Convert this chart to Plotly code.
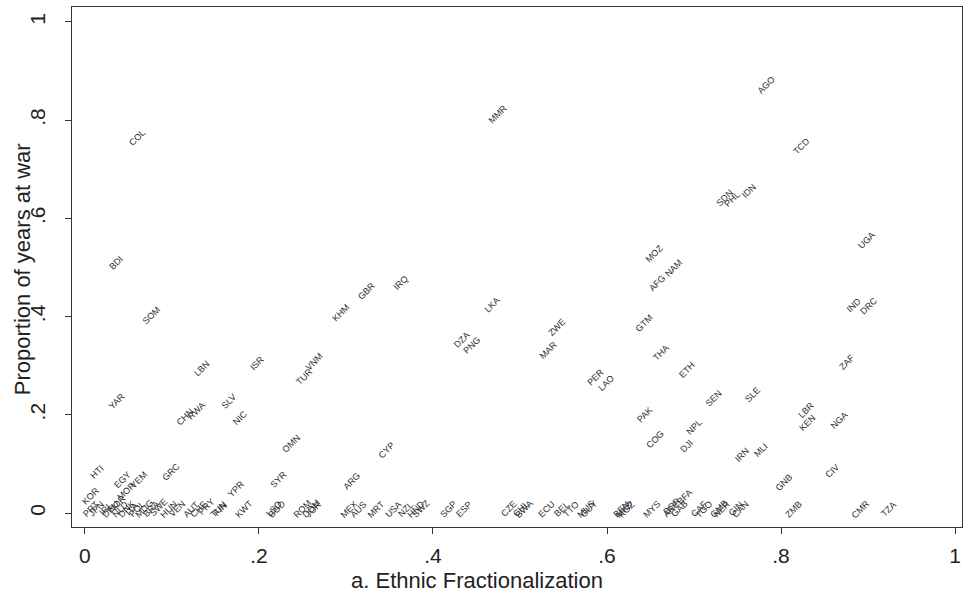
import plotly.graph_objects as go

countries = [
    "AGO", "MMR", "COL", "TCD", "SDN", "PHL", "IDN", "UGA", "MOZ", "AFG", "NAM",
    "BDI", "SOM", "KHM", "GBR", "IRQ", "LKA", "ZWE", "GTM", "IND", "DRC", "DZA",
    "PNG", "MAR", "THA", "ETH", "PER", "LAO", "ZAF", "SEN", "SLE", "LBN", "ISR",
    "VNM", "TUR", "YAR", "SLV", "CHN", "RWA", "NIC", "PAK", "NPL", "COG", "DJI",
    "IRN", "MLI", "LBR", "KEN", "NGA", "CIV", "GNB", "OMN", "CYP", "SYR", "ARG",
    "HTI", "EGY", "YEM", "MOR", "GRC", "KOR", "YPR",
    "PRT", "JPN", "IRL", "DEU", "NOR", "NLD", "DNK", "ITA", "POL", "MDG", "BRA",
    "SWE", "HUN", "VEN", "AUT", "CHE", "PRY", "TUN", "FIN", "KWT", "LSO", "BGD",
    "ROM", "DOM", "JOR", "MEX", "AUS", "MRT", "USA", "NZL", "HND", "SWZ", "SGP",
    "ESP", "CZE", "CHL", "BWA", "ECU", "BEL", "TTO", "MUS", "GUY", "BEN", "MKD",
    "KGZ", "MYS", "BGR", "BFA", "ARE", "GAB", "CAF", "TGO", "GMB", "NER", "GIN",
    "CAN", "ZMB", "CMR", "TZA",
]

ethnic_frac = [
    0.776, 0.468, 0.054, 0.817, 0.728, 0.737, 0.756, 0.892, 0.647, 0.651, 0.670,
    0.029, 0.070, 0.287, 0.317, 0.356, 0.461, 0.536, 0.636, 0.877, 0.894, 0.426,
    0.438, 0.526, 0.655, 0.685, 0.580, 0.592, 0.869, 0.716, 0.760, 0.128, 0.191,
    0.256, 0.245, 0.030, 0.159, 0.108, 0.121, 0.171, 0.636, 0.693, 0.649, 0.685,
    0.748, 0.770, 0.822, 0.823, 0.860, 0.852, 0.797, 0.230, 0.340, 0.216, 0.300,
    0.007, 0.036, 0.055, 0.041, 0.092, 0.000, 0.167,
    0.000, 0.006, 0.017, 0.023, 0.030, 0.034, 0.041, 0.047, 0.053, 0.061, 0.069,
    0.078, 0.090, 0.099, 0.116, 0.124, 0.132, 0.147, 0.149, 0.176, 0.210, 0.214,
    0.243, 0.253, 0.256, 0.297, 0.308, 0.328, 0.348, 0.362, 0.374, 0.379, 0.411,
    0.429, 0.480, 0.494, 0.498, 0.524, 0.541, 0.552, 0.569, 0.572, 0.610, 0.613,
    0.616, 0.645, 0.668, 0.682, 0.667, 0.676, 0.699, 0.705, 0.722, 0.725, 0.741,
    0.747, 0.808, 0.885, 0.917,
]

years_at_war = [
    0.864, 0.804, 0.757, 0.739, 0.634, 0.632, 0.648, 0.547, 0.520, 0.460, 0.490,
    0.500, 0.395, 0.399, 0.443, 0.460, 0.415, 0.370, 0.379, 0.415, 0.413, 0.344,
    0.334, 0.324, 0.318, 0.283, 0.269, 0.257, 0.300, 0.227, 0.233, 0.287, 0.298,
    0.300, 0.269, 0.219, 0.219, 0.188, 0.200, 0.186, 0.192, 0.168, 0.142, 0.128,
    0.111, 0.121, 0.202, 0.176, 0.182, 0.077, 0.055, 0.132, 0.121, 0.061, 0.057,
    0.075, 0.059, 0.059, 0.036, 0.075, 0.026, 0.040,
    0.000, 0.000, 0.000, 0.000, 0.010, 0.000, 0.000, 0.000, 0.000, 0.000, 0.000,
    0.005, 0.000, 0.000, 0.000, 0.000, 0.005, 0.000, 0.000, 0.000, 0.000, 0.000,
    0.000, 0.000, 0.000, 0.000, 0.000, 0.000, 0.000, 0.000, 0.000, 0.000, 0.000,
    0.000, 0.000, 0.000, 0.000, 0.000, 0.000, 0.000, 0.000, 0.000, 0.000, 0.000,
    0.000, 0.000, 0.006, 0.025, 0.000, 0.000, 0.000, 0.000, 0.000, 0.000, 0.000,
    0.000, 0.000, 0.000, 0.000,
]

x_ticks = [0, 0.2, 0.4, 0.6, 0.8, 1]
x_tick_labels = ["0", ".2", ".4", ".6", ".8", "1"]
y_ticks = [0, 0.2, 0.4, 0.6, 0.8, 1]
y_tick_labels = ["0", ".2", ".4", ".6", ".8", "1"]

FONT = "Liberation Sans"

fig = go.Figure()
fig.add_trace(go.Scatter(x=ethnic_frac, y=years_at_war, mode="markers",
                         marker=dict(size=1, color="rgba(0,0,0,0)"),
                         hoverinfo="text", text=countries, showlegend=False))

for c, xv, yv in zip(countries, ethnic_frac, years_at_war):
    fig.add_annotation(x=xv, y=yv, text=c, showarrow=False, textangle=-45,
                       xanchor="center", yanchor="middle", xshift=6, yshift=4,
                       font=dict(family=FONT, size=9, color="#2a2a2a"))

# axis titles
fig.add_annotation(xref="paper", yref="paper", x=0.455, y=-0.102,
                   text="a. Ethnic Fractionalization", showarrow=False,
                   xanchor="center", yanchor="middle",
                   font=dict(family=FONT, size=22, color="#222"))
fig.add_annotation(xref="paper", yref="paper", x=-0.056, y=0.496,
                   text="Proportion of years at war", showarrow=False,
                   textangle=-90, xanchor="center", yanchor="middle",
                   font=dict(family=FONT, size=22, color="#222"))

axis_common = dict(showgrid=False, zeroline=False, showline=True, linecolor="#333",
                   linewidth=1.2, mirror=True, ticks="outside", ticklen=6,
                   tickwidth=1.2, tickcolor="#333", automargin=False,
                   tickfont=dict(family=FONT, size=21, color="#222"))

fig.update_layout(
    width=964, height=601,
    paper_bgcolor="white", plot_bgcolor="white",
    margin=dict(l=72, r=2, t=7, b=74, autoexpand=False),
    xaxis=dict(range=[-0.0149, 1.008], tickvals=x_ticks, ticktext=x_tick_labels,
               ticklabelstandoff=4, **axis_common),
    yaxis=dict(range=[-0.0285, 1.0305], tickvals=y_ticks, ticktext=y_tick_labels,
               tickangle=-90, ticklabelstandoff=12, **axis_common),
)

fig.write_html("out.html",
               config={"displayModeBar": False},
               post_script="document.body.style.margin='0';"
                           "document.body.style.overflow='hidden';")
